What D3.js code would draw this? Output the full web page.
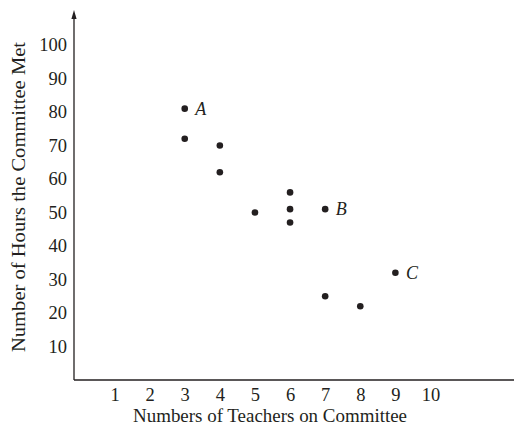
<!DOCTYPE html>
<html><head><meta charset="utf-8">
<script src="https://cdn.jsdelivr.net/npm/d3@7"></script>
<style>
html,body{margin:0;padding:0;background:#fff;}
svg text{font-family:"Liberation Serif","DejaVu Serif",serif;fill:#231f20;}
</style></head>
<body>
<svg id="chart" width="515" height="425"></svg>
<script>
const teachers = [3, 3, 4, 4, 5, 6, 6, 6, 7, 7, 8, 9];
const hours    = [81, 72, 70, 62, 50, 56, 51, 47, 51, 25, 22, 32];
const pointLabels = ["A", "", "", "", "", "", "", "", "B", "", "", "C"];
const xTicks = [1, 2, 3, 4, 5, 6, 7, 8, 9, 10];
const yTicks = [10, 20, 30, 40, 50, 60, 70, 80, 90, 100];
const xTitle = "Numbers of Teachers on Committee";
const yTitle = "Number of Hours the Committee Met";

const svg = d3.select("#chart");
const ink = "#231f20";
const axisX = 74, axisY = 380;

const x = d3.scaleLinear().domain([0, 10]).range([79.4, 430.5]);
const y = d3.scaleLinear().domain([0, 100]).range([380, 45]);

// axes lines
svg.append("line").attr("x1", axisX).attr("x2", 514).attr("y1", axisY).attr("y2", axisY)
  .attr("stroke", ink).attr("stroke-width", 1.3);
svg.append("line").attr("x1", axisX).attr("x2", axisX).attr("y1", axisY).attr("y2", 16)
  .attr("stroke", ink).attr("stroke-width", 1.3);
svg.append("path").attr("d", `M${axisX},10 L${axisX-2.6},19 L${axisX+2.6},19 Z`).attr("fill", ink);

// tick labels via d3 axes
const xa = svg.append("g").attr("transform", `translate(0,${axisY})`)
  .call(d3.axisBottom(x).tickValues(xTicks).tickSize(0).tickPadding(7.5));
xa.attr("font-family", null).attr("font-size", null);
xa.select(".domain").remove();
xa.selectAll("text").style("font-size", "18.5px").attr("fill", ink);

const ya = svg.append("g").attr("transform", `translate(${axisX},0)`)
  .call(d3.axisLeft(y).tickValues(yTicks).tickSize(0).tickPadding(7));
ya.attr("font-family", null).attr("font-size", null);
ya.select(".domain").remove();
ya.selectAll("text").style("font-size", "18.5px").attr("fill", ink);

// titles
svg.append("text").attr("x", 270).attr("y", 422).attr("text-anchor", "middle")
  .attr("textLength", 274).attr("lengthAdjust", "spacingAndGlyphs")
  .style("font-size", "18px").text(xTitle);
svg.append("text").attr("transform", "translate(24.5,197) rotate(-90)").attr("text-anchor", "middle")
  .attr("textLength", 310).attr("lengthAdjust", "spacingAndGlyphs")
  .style("font-size", "19.5px").text(yTitle);

// points
const data = teachers.map((t, i) => ({t, h: hours[i], lab: pointLabels[i]}));
svg.selectAll("circle.pt").data(data).enter().append("circle")
  .attr("class", "pt").attr("cx", d => x(d.t)).attr("cy", d => y(d.h)).attr("r", 3.3).attr("fill", ink);
svg.selectAll("text.lab").data(data.filter(d => d.lab)).enter().append("text")
  .attr("class", "lab").attr("x", d => x(d.t) + 10.5).attr("y", d => y(d.h) + 6)
  .style("font-size", "18px").style("font-style", "italic").text(d => d.lab);
</script>
</body></html>
